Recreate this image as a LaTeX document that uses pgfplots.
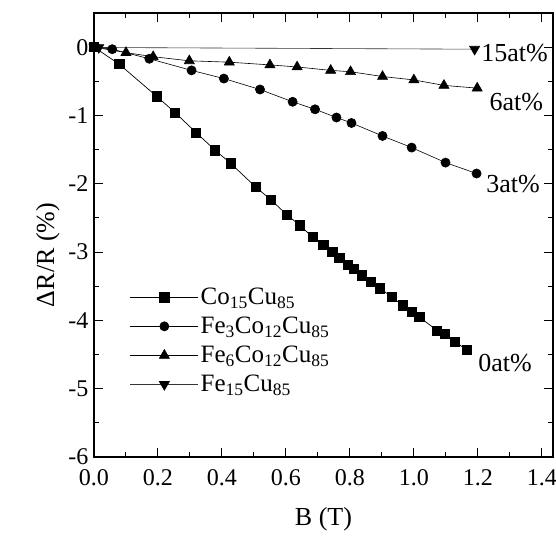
\documentclass[border=0pt]{standalone}
\usepackage{pgfplots}
\pgfplotsset{compat=1.18}
\usepackage{pgfplotstable}
\usepackage{fontspec}
\setmainfont{Liberation Serif}

\pgfplotstableread{
B y
0.000 0.00
0.079 -0.25
0.196 -0.72
0.254 -0.96
0.319 -1.25
0.379 -1.51
0.427 -1.70
0.506 -2.05
0.552 -2.23
0.602 -2.45
0.644 -2.61
0.683 -2.78
0.717 -2.90
0.745 -3.00
0.767 -3.08
0.793 -3.19
0.812 -3.25
0.837 -3.34
0.865 -3.44
0.894 -3.53
0.932 -3.66
0.965 -3.78
0.993 -3.88
1.017 -3.95
1.073 -4.15
1.097 -4.20
1.128 -4.31
1.165 -4.43
}\cocu

\pgfplotstableread{
B y
0.000 0.00
0.057 -0.03
0.173 -0.17
0.305 -0.34
0.406 -0.46
0.519 -0.62
0.621 -0.80
0.691 -0.91
0.758 -1.03
0.805 -1.11
0.902 -1.30
0.993 -1.47
1.099 -1.69
1.196 -1.85
}\fethree

\pgfplotstableread{
B y
0.000 0.00
0.100 -0.08
0.185 -0.14
0.298 -0.20
0.423 -0.22
0.550 -0.26
0.635 -0.29
0.740 -0.34
0.802 -0.36
0.902 -0.43
1.000 -0.48
1.094 -0.56
1.198 -0.60
}\fesix

\pgfplotstableread{
B y
0.000 0.00
0.015 -0.005
1.190 -0.03
}\fefift

\begin{document}
\begin{tikzpicture}
\path[use as bounding box] (-94pt,-80pt) rectangle (462pt,457pt);
\begin{axis}[
  scale only axis, width=459pt, height=444pt,
  at={(0,0)}, anchor=south west,
  xmin=0, xmax=1.435, ymin=-6, ymax=0.5,
  xtick={0,0.2,0.4,0.6,0.8,1.0,1.2,1.4}, minor x tick num=1,
  ytick={-6,-5,-4,-3,-2,-1,0}, minor y tick num=1,
  tick align=inside, major tick length=9pt, minor tick length=5pt,
  every tick/.style={black, line width=1pt},
  axis line style={line width=1.3pt},
  /pgf/number format/assume math mode=true,
  ticklabel style={font=\fontsize{24}{28}\selectfont},
  xticklabel style={yshift=-9pt, /pgf/number format/.cd, fixed, fixed zerofill, precision=1},
  yticklabel style={xshift=-2pt},
  xlabel={B (T)}, ylabel={ΔR/R (\%)},
  label style={font=\fontsize{26}{30}\selectfont},
  xlabel style={yshift=-15pt},
  ylabel style={yshift=2pt, xshift=-20pt},
  legend style={draw=none, fill=none, at={(0.078,0.385)}, anchor=north west,
    font=\fontsize{25}{29}\selectfont, row sep=7pt, cells={anchor=west},
    inner sep=0pt},
  legend image code/.code={\draw[mark repeat=2,mark phase=2,#1] plot coordinates {(0pt,0pt) (34pt,0pt) (68pt,0pt)};},
]
\addplot[black, line width=0.7pt, mark=square*, mark size=4.6pt, mark options={solid}] table[x=B,y=y] {\cocu};
\addlegendentry{Co\textsubscript{15}Cu\textsubscript{85}}
\addplot[black, line width=0.6pt, mark=*, mark size=4.6pt] table[x=B,y=y] {\fethree};
\addlegendentry{Fe\textsubscript{3}Co\textsubscript{12}Cu\textsubscript{85}}
\addplot[black, line width=0.6pt, mark=triangle*, mark size=5.8pt] table[x=B,y=y] {\fesix};
\addlegendentry{Fe\textsubscript{6}Co\textsubscript{12}Cu\textsubscript{85}}
\addplot[black!80, line width=0.6pt, mark=triangle*, mark size=5.8pt, mark options={rotate=180, black}] table[x=B,y=y] {\fefift};
\addlegendentry{Fe\textsubscript{15}Cu\textsubscript{85}}
\node[font=\fontsize{26}{30}\selectfont] at (axis cs:1.315,-0.09) {15at\%};
\node[font=\fontsize{26}{30}\selectfont] at (axis cs:1.32,-0.80) {6at\%};
\node[font=\fontsize{26}{30}\selectfont] at (axis cs:1.31,-2.0) {3at\%};
\node[font=\fontsize{26}{30}\selectfont] at (axis cs:1.285,-4.63) {0at\%};
\end{axis}
\end{tikzpicture}
\end{document}
